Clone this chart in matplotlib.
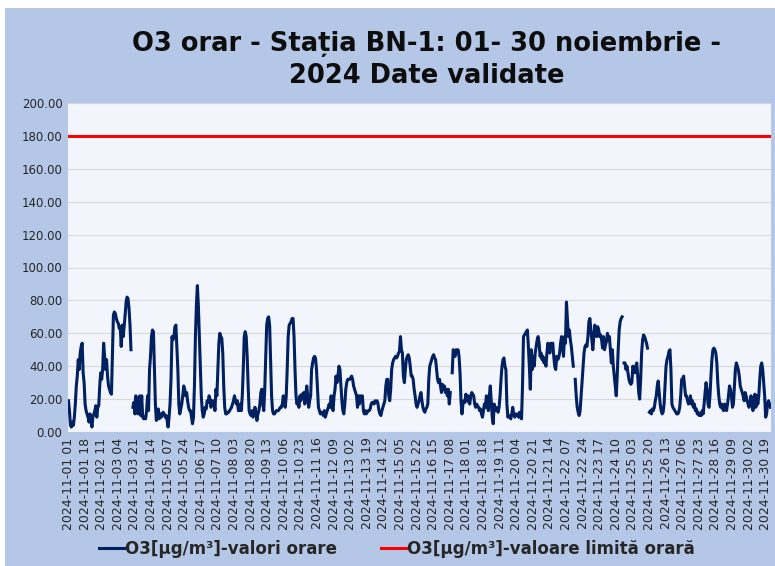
import numpy as np
import matplotlib
matplotlib.use('Agg')
import matplotlib.pyplot as plt
from matplotlib.patches import Rectangle

# O3 hourly values, Statia BN-1, 01-30 November 2024 (one row per day, hours 01..24)
nan = None
o3_hourly = [
    19, 13, 4, 3, 6, 4, 9, 17, 28, 34, 44, 38, 48, 52, 54, 36, 30, 17, 13, 11, 9, 6, 11, 8,
    3, 9, 11, 13, 16, 9, 15, 16, 28, 36, 32, 38, 54, 46, 38, 44, 34, 28, 26, 24, 23, 48, 71, 73,
    72, 69, 67, 66, 63, 64, 52, 65, 58, 64, 71, 79, 82, 81, 75, 65, 50, nan, 15, 18, 11, 22, 15, 11,
    20, 22, 10, 22, 9, 8, 9, 8, 13, 22, 13, 38, 46, 58, 62, 61, 38, 17, 7, 13, 14, 8, 11, 9,
    11, 12, 11, 9, 10, 7, 3, 9, 17, 32, 58, 56, 58, 64, 65, 52, 38, 17, 11, 14, 17, 22, 28, 26,
    22, 24, 19, 15, 13, 13, 9, 5, 9, 28, 58, 77, 89, 77, 58, 38, 22, 13, 9, 11, 15, 14, 19, 18,
    22, 20, 15, 19, 17, 19, 13, 26, 22, 38, 54, 60, 58, 57, 48, 28, 15, 11, 11, 12, 12, 13, 14, 15,
    17, 19, 22, 19, 17, 19, 13, 13, 17, 13, 22, 38, 58, 61, 58, 46, 28, 13, 11, 10, 13, 9, 11, 15,
    11, 7, 11, 13, 17, 24, 26, 17, 13, 26, 46, 65, 69, 70, 65, 44, 22, 13, 11, 11, 12, 13, 13, 13,
    14, 15, 15, 17, 22, 17, 15, 22, 38, 58, 65, 66, 67, 69, 69, 58, 38, 22, 17, 19, 15, 22, 19, 23,
    22, 24, 17, 22, 28, 22, 15, 19, 22, 38, 42, 45, 46, 45, 38, 26, 15, 13, 11, 12, 11, 10, 13, 9,
    11, 13, 15, 17, 15, 22, 15, 13, 22, 26, 34, 30, 34, 40, 38, 28, 19, 13, 11, 17, 26, 30, 32, 32,
    32, 33, 34, 32, 28, 26, 24, 22, 15, 22, 17, 22, 20, 22, 13, 11, 13, 11, 12, 13, 13, 14, 17, 18,
    18, 17, 19, 18, 19, 17, 13, 11, 10, 13, 15, 17, 19, 28, 32, 32, 22, 19, 26, 38, 42, 44, 45, 46,
    45, 46, 48, 49, 58, 50, 48, 34, 30, 38, 44, 46, 47, 45, 40, 34, 34, 32, 26, 22, 17, 15, 17, 19,
    22, 24, 19, 15, 13, 12, 14, 15, 17, 32, 40, 42, 44, 46, 47, 45, 44, 38, 32, 30, 32, 28, 24, 29,
    26, 28, 24, 26, 22, 26, 17, 24, nan, 36, 50, 49, 46, 50, 49, 50, 46, 36, 19, 11, 17, 19, 18, 23,
    19, 22, 18, 17, 22, 24, 23, 22, 17, 15, 17, 16, 15, 13, 14, 11, 9, 13, 17, 15, 22, 17, 13, 22,
    28, 19, 9, 5, 17, 13, 15, 13, 12, 15, 22, 32, 40, 44, 45, 40, 38, 17, 9, 10, 9, 8, 11, 15,
    11, 9, 11, 10, 11, 9, 12, 9, 8, 28, 58, 59, 60, 61, 62, 52, 40, 26, 50, 38, 46, 40, 48, 52,
    56, 58, 54, 46, 48, 44, 46, 42, 44, 40, 48, 54, 52, 48, 54, 52, 54, 46, 40, 38, 46, 44, 45, 48,
    54, 58, 52, 46, 58, 54, 79, 69, 58, 62, 56, 52, 46, 40, nan, 32, 22, 15, 12, 10, 13, 22, 32, 40,
    48, 52, 53, 52, 58, 67, 69, 62, 56, 50, 58, 65, 62, 58, 64, 62, 58, 59, 56, 51, 58, 50, 53, 55,
    60, 56, 58, 50, 42, 50, 40, 34, 28, 22, 34, 50, 62, 67, 69, 70, nan, 42, 42, 38, 40, 36, 32, 30,
    29, 30, 40, 38, 36, 40, 42, 34, 24, 20, 32, 48, 56, 59, 58, 56, 54, 51, nan, 12, 13, 11, 14, 13,
    15, 19, 22, 28, 31, 24, 17, 13, 11, 12, 17, 28, 40, 44, 46, 49, 50, 38, 17, 15, 14, 13, 12, 11,
    11, 12, 15, 22, 32, 32, 34, 28, 22, 22, 19, 17, 18, 22, 17, 19, 15, 17, 13, 14, 11, 12, 10, 11,
    10, 13, 11, 17, 24, 30, 26, 17, 15, 22, 34, 44, 50, 51, 50, 48, 42, 30, 22, 17, 15, 17, 14, 13,
    17, 15, 13, 17, 22, 28, 26, 22, 15, 17, 28, 38, 42, 40, 38, 34, 28, 26, 24, 22, 19, 24, 22, 19,
    17, 15, 18, 22, 17, 13, 17, 23, 15, 22, 17, 22, 32, 40, 42, 38, 30, 22, 9, 11, 17, 19, 17, 15,
]
limit_value = 180
y_ticks = [0, 20, 40, 60, 80, 100, 120, 140, 160, 180, 200]
label_step = 17

o3 = np.array(o3_hourly, dtype=float)
n = len(o3)
x = np.arange(n)
limit = np.full(n, limit_value, dtype=float)
# hour labels use the 01..24 convention
tick_labels = ['2024-11-%02d %02d' % (i // 24 + 1, i % 24 + 1) for i in range(n)]

fig = plt.figure(figsize=(7.75, 5.66), dpi=100, facecolor='white')
fig.patches.append(Rectangle((5 / 775, 0), 1, 1 - 8 / 566, transform=fig.transFigure,
                             facecolor='#B4C7E7', edgecolor='none', zorder=-10))

ax = fig.add_axes([68 / 775, 1 - 432 / 566, 703 / 775, 329 / 566])
ax.set_zorder(5)
ax.set_facecolor('#F2F5FB')

ax.plot(x, o3, color='#002060', linewidth=2.2, label='O3[µg/m³]-valori orare')
ax.plot(x, limit, color='#FF0000', linewidth=2.2, label='O3[µg/m³]-valoare limită orară')

ax.set_xlim(-0.5, n - 0.5)
ax.set_ylim(0, 200)
ax.set_yticks(y_ticks)
ax.set_yticklabels(['%.2f' % v for v in y_ticks], fontsize=8.5, color='#262626')
ax.set_xticks(x[::label_step])
ax.set_xticklabels(tick_labels[::label_step], rotation=90, fontsize=9, color='#262626')
ax.tick_params(length=0, pad=4)
ax.grid(axis='y', color='#D9D9D9', linewidth=0.8)
ax.set_axisbelow(True)
for s in ax.spines.values():
    s.set_visible(False)

fig.text(0.55, 0.945, 'O3 orar - Stația BN-1: 01- 30 noiembrie -\n2024 Date validate',
         ha='center', va='top', fontsize=18.5, fontweight='bold', color='#0D0D0D',
         linespacing=1.3, zorder=6)

fig.legend(loc='center', bbox_to_anchor=(0.512, 0.03), ncol=2, frameon=False,
           prop={'size': 12, 'weight': 'bold'}, handlelength=1.5, handletextpad=0.1,
           columnspacing=2.6, labelcolor='#262626')

fig.savefig('out.png', dpi=100, facecolor=fig.get_facecolor())
